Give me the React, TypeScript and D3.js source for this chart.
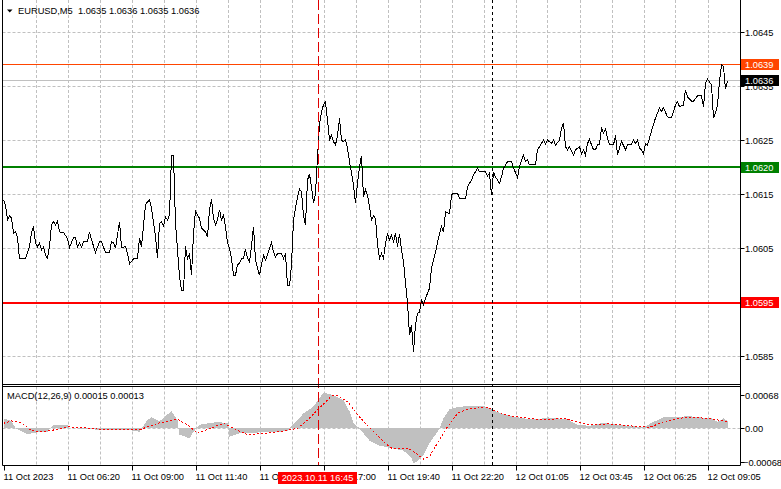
import { useEffect } from 'react'
import * as d3 from 'd3'

// EURUSD M5 close prices, [bar index, close]
const pricePts: [number, number][] = [
  [0, 1.06139], [1, 1.06129], [2, 1.06101], [3, 1.06109], [4, 1.06105], [5, 1.06077], [6, 1.06079], [7, 1.0607],
  [8, 1.06029], [11, 1.06029], [13, 1.06052], [14, 1.06077], [15, 1.06089], [16, 1.06059], [17, 1.06052], [18, 1.06059],
  [19, 1.06046], [20, 1.06051], [21, 1.06036], [22, 1.0603], [23, 1.06052], [24, 1.06092], [25, 1.06098], [26, 1.06092],
  [27, 1.06099], [28, 1.06079], [30, 1.06078], [32, 1.06067], [33, 1.0605], [35, 1.06069], [36, 1.06068], [37, 1.06051],
  [38, 1.06059], [39, 1.06051], [40, 1.06061], [42, 1.06062], [43, 1.06079], [44, 1.06065], [46, 1.06041], [48, 1.06061],
  [49, 1.06061], [51, 1.06041], [53, 1.06041], [54, 1.06061], [55, 1.06059], [56, 1.06049], [58, 1.06098], [59, 1.0605],
  [61, 1.06052], [62, 1.06039], [63, 1.0602], [65, 1.06029], [67, 1.0603], [68, 1.06067], [69, 1.06052], [71, 1.06129],
  [72, 1.06135], [73, 1.06138], [74, 1.06123], [76, 1.0607], [77, 1.0603], [78, 1.06095], [79, 1.06098], [80, 1.0609],
  [81, 1.06107], [82, 1.06101], [83, 1.0611], [84, 1.06221], [85, 1.06221], [86, 1.06095], [87, 1.06046], [88, 1.05996],
  [89, 1.0597], [90, 1.0597], [91, 1.06052], [92, 1.0603], [93, 1.06039], [94, 1.05999], [95, 1.06076], [96, 1.06118],
  [98, 1.06104], [99, 1.06086], [101, 1.06079], [102, 1.0607], [103, 1.0612], [104, 1.06139], [105, 1.06104], [106, 1.06092],
  [107, 1.06101], [108, 1.0612], [109, 1.06101], [110, 1.0611], [111, 1.06089], [112, 1.06059], [113, 1.06049], [114, 1.0603],
  [115, 1.05999], [116, 1.05999], [117, 1.06018], [118, 1.06021], [119, 1.0603], [120, 1.0603], [121, 1.06047], [122, 1.0603],
  [123, 1.06024], [124, 1.06052], [125, 1.06089], [126, 1.06027], [127, 1.06012], [128, 1.05999], [129, 1.06018], [130, 1.06036],
  [131, 1.06027], [132, 1.06036], [133, 1.06049], [134, 1.06059], [135, 1.06042], [136, 1.06033], [137, 1.06039], [139, 1.06039],
  [140, 1.0603], [141, 1.06039], [142, 1.05979], [143, 1.05979], [144, 1.06018], [145, 1.06101], [146, 1.06123], [147, 1.06144],
  [148, 1.06158], [149, 1.06153], [150, 1.0611], [151, 1.06092], [152, 1.06175], [153, 1.06186], [154, 1.06162], [155, 1.06132],
  [156, 1.06151], [157, 1.06218], [158, 1.06277], [159, 1.06302], [160, 1.06314], [161, 1.0632], [162, 1.06286], [163, 1.0625],
  [164, 1.06258], [165, 1.06246], [166, 1.0624], [167, 1.06258], [168, 1.06289], [169, 1.06249], [170, 1.06246], [171, 1.0625],
  [172, 1.06234], [173, 1.06209], [174, 1.06188], [175, 1.06166], [176, 1.06132], [177, 1.06169], [178, 1.062], [179, 1.0622],
  [180, 1.06144], [181, 1.06157], [182, 1.06147], [183, 1.06126], [184, 1.06101], [185, 1.06109], [186, 1.06104], [187, 1.06055],
  [188, 1.0603], [189, 1.06039], [190, 1.0603], [191, 1.06058], [192, 1.06076], [193, 1.06064], [194, 1.06073], [195, 1.06061],
  [196, 1.06076], [197, 1.06052], [198, 1.06076], [199, 1.06046], [200, 1.06023], [202, 1.05947], [203, 1.05888], [204, 1.05907],
  [205, 1.05857], [206, 1.05907], [207, 1.05928], [208, 1.05931], [209, 1.05953], [210, 1.05944], [211, 1.05956], [213, 1.05975],
  [214, 1.06012], [216, 1.06042], [218, 1.06076], [219, 1.06089], [220, 1.06079], [221, 1.06116], [223, 1.06113], [224, 1.06147],
  [225, 1.06151], [227, 1.06151], [228, 1.06141], [231, 1.0614], [232, 1.06163], [234, 1.06175], [235, 1.06184], [237, 1.06197],
  [238, 1.0619], [241, 1.0619], [242, 1.06183], [243, 1.06188], [244, 1.06147], [245, 1.0619], [246, 1.06181], [248, 1.06169],
  [249, 1.06181], [250, 1.06197], [252, 1.06209], [254, 1.06209], [255, 1.06197], [256, 1.06189], [257, 1.0618], [258, 1.062],
  [259, 1.06212], [260, 1.06221], [261, 1.06209], [262, 1.06213], [263, 1.06203], [266, 1.06203], [267, 1.06231], [269, 1.06243],
  [270, 1.06249], [271, 1.06242], [272, 1.06249], [274, 1.06243], [275, 1.06249], [276, 1.0624], [278, 1.06249], [279, 1.06271],
  [280, 1.0628], [281, 1.06237], [282, 1.06231], [283, 1.06237], [285, 1.06221], [286, 1.06231], [288, 1.06237], [289, 1.06223],
  [290, 1.06231], [291, 1.06221], [292, 1.06243], [293, 1.0625], [295, 1.06231], [296, 1.06231], [297, 1.0624], [298, 1.06241],
  [299, 1.06271], [300, 1.06262], [301, 1.0627], [302, 1.06252], [303, 1.0624], [305, 1.0624], [306, 1.06258], [307, 1.06221],
  [308, 1.06234], [309, 1.06247], [310, 1.06239], [311, 1.06231], [312, 1.06241], [314, 1.06241], [315, 1.06249], [316, 1.06243],
  [317, 1.06249], [318, 1.06234], [319, 1.06231], [320, 1.06223], [321, 1.06243], [322, 1.0624], [323, 1.06253], [324, 1.06266],
  [326, 1.0629], [328, 1.06308], [329, 1.06302], [330, 1.06309], [332, 1.06292], [334, 1.0629], [336, 1.06314], [337, 1.0632],
  [338, 1.06311], [340, 1.06314], [341, 1.06342], [342, 1.06329], [344, 1.06321], [345, 1.06321], [347, 1.06331], [349, 1.06331],
  [350, 1.06311], [351, 1.06354], [352, 1.06362], [354, 1.06351], [355, 1.0629], [356, 1.063], [357, 1.06314], [358, 1.06357],
  [359, 1.06389], [360, 1.06385], [361, 1.06343], [362, 1.06359],
]

// MACD(12,26,9) main (histogram) and signal, [bar index, value]
const macdPts: [number, number][] = [
  [0, 0.0002], [4, 0.00015], [6, 0], [12, -0.00012], [18, -0.00007], [22, -0.00007], [25, 0.00007], [32, 0.00007],
  [33, 0.00001], [48, -0.00003], [62, -0.00003], [68, -0.00007], [72, 0.00017], [74, 0.00022], [78, 0.00014], [84, 0.00035],
  [87, 0.00016], [88, -0.00013], [93, -0.0002], [95, -0.00007], [98, 0.00007], [107, 0.00013], [112, 0.0001], [113, -0.00017],
  [118, -0.0001], [142, -0.00006], [143, 0], [150, 0.0003], [155, 0.00044], [160, 0.00072], [165, 0.00067], [170, 0.00057],
  [173, 0.00034], [175, 0.0001], [178, 0], [183, -0.00025], [188, -0.00035], [194, -0.0004], [200, -0.00045], [204, -0.0006],
  [205, -0.0007], [207, -0.00067], [210, -0.00054], [213, -0.0003], [217, -0.00007], [218, 0], [220, 0.0002], [223, 0.00038],
  [227, 0.00043], [233, 0.00045], [240, 0.00045], [243, 0.0004], [247, 0.00033], [253, 0.00025], [260, 0.0002], [267, 0.00018],
  [272, 0.00022], [277, 0.0002], [282, 0.00018], [287, 0.00007], [293, 0.00005], [300, 0.00011], [307, 0.00007], [313, 0.00005],
  [320, 0.00002], [325, 0.00013], [330, 0.00022], [337, 0.00022], [342, 0.00025], [348, 0.00022], [354, 0.0002], [357, 0.00013],
  [360, 0.0002], [362, 0.00015],
]

const signalPts: [number, number][] = [
  [0, 0.0001], [4, 0.00015], [9, 0.00011], [14, -0.00005], [20, -0.00007], [27, -0.00002], [32, 0.00003], [38, 0.00002],
  [48, -0.00002], [58, -0.00003], [68, -0.00003], [75, 0.00007], [78, 0.00011], [87, 0.00018], [92, 0.00007], [97, -0.0001],
  [102, -0.00002], [110, 0.0001], [115, 0], [122, -0.00013], [132, -0.0001], [142, -0.00004], [147, 0], [152, 0.00017],
  [157, 0.00037], [164, 0.00065], [167, 0.00066], [172, 0.00054], [178, 0.00023], [185, -0.00007], [192, -0.00034], [194, -0.0004],
  [202, -0.0004], [205, -0.00047], [210, -0.00062], [213, -0.00057], [217, -0.0003], [222, 0.00003], [227, 0.0003], [233, 0.0004],
  [242, 0.00042], [247, 0.00033], [253, 0.00025], [263, 0.0002], [270, 0.00017], [280, 0.0002], [287, 0.00013], [292, 0.00007],
  [303, 0.00009], [313, 0.00005], [323, 0.00002], [330, 0.00013], [337, 0.0002], [343, 0.00022], [353, 0.0002], [362, 0.00013],
]

const priceTicks = [1.0645, 1.0635, 1.0625, 1.0615, 1.0605, 1.0595, 1.0585]
const macdTicks = [0.00068, 0, -0.00068]
const timeLabels = [
  '11 Oct 2023', '11 Oct 06:20', '11 Oct 09:00', '11 Oct 11:40', '11 Oct 14:20', '11 Oct 17:00',
  '11 Oct 19:40', '11 Oct 22:20', '12 Oct 01:05', '12 Oct 03:45', '12 Oct 06:25', '12 Oct 09:05',
]
const labelStep = 32 // bars between time labels
const gridStep = 16

const levelHigh = 1.0639
const bid = 1.0636
const levelGreen = 1.062
const levelRed = 1.0595
const cursorBar = 157
const cursorLabel = '2023.10.11 16:45'
const daySeparatorBar = 244
const header = 'EURUSD,M5  1.0635 1.0636 1.0635 1.0636'
const macdHeader = 'MACD(12,26,9) 0.00015 0.00013'

const FONT = '"Liberation Sans", Arial, sans-serif'
const FS = 9.3

export default function App() {
  useEffect(() => {
    document.body.style.margin = '0'
  }, [])

  const width = 781
  const height = 489
  const left = 2.5
  const right = 740.5
  const mainTop = 0
  const mainBottom = 384.5
  const subTop = 386.5
  const subBottom = 465.5

  const x = d3.scaleLinear().domain([0, 362]).range([3.5, 727.5])
  const y = d3.scaleLinear().domain([1.0585, 1.0645]).range([355.7, 31.5])
  const ym = d3.scaleLinear().domain([-0.00068, 0.00068]).range([462, 394.6])

  const px = (v: number) => Math.round(v) + 0.5

  const priceLine = d3.line<[number, number]>().x(d => x(d[0])).y(d => y(d[1]))
  const histArea = d3.area<[number, number]>().x(d => x(d[0])).y0(ym(0)).y1(d => ym(d[1]))
  const signalLine = d3.line<[number, number]>().x(d => x(d[0])).y(d => ym(d[1]))

  const gridBars = d3.range(gridStep, 362, gridStep)
  const grid = '#c0c0c0'

  const axisBox = (value: number, fill: string, fmt: (v: number) => string) => {
    const cy = Math.round(y(value))
    return (
      <g key={`box-${value}`}>
        <rect x={741} y={cy - 5} width={38} height={11} fill={fill} />
        <text x={745} y={cy + 4} fill="#fff" fontSize={FS} fontFamily={FONT}>{fmt(value)}</text>
      </g>
    )
  }
  const f4 = d3.format('.4f')

  return (
    <svg width={width} height={height} style={{ display: 'block', background: '#fff' }}>
      <rect width={width} height={height} fill="#fff" />

      {/* grid */}
      {gridBars.map(b => (
        <g key={`vg-${b}`}>
          <line x1={px(x(b))} x2={px(x(b))} y1={mainTop} y2={mainBottom} stroke={grid} strokeDasharray="3,2" />
          <line x1={px(x(b))} x2={px(x(b))} y1={subTop} y2={subBottom} stroke={grid} strokeDasharray="3,2" />
        </g>
      ))}
      {priceTicks.map(t => (
        <line key={`hg-${t}`} x1={left} x2={right} y1={px(y(t))} y2={px(y(t))} stroke={grid} strokeDasharray="3,2" />
      ))}
      <line x1={left} x2={right} y1={px(ym(0))} y2={px(ym(0))} stroke={grid} strokeDasharray="3,2" />

      {/* MACD */}
      <path d={histArea(macdPts) ?? ''} fill="#c0c0c0" shapeRendering="crispEdges" />
      <path d={signalLine(signalPts) ?? ''} fill="none" stroke="#ff0000" strokeDasharray="2,2" shapeRendering="crispEdges" />

      {/* horizontal levels */}
      <line x1={left} x2={right} y1={px(y(levelHigh))} y2={px(y(levelHigh))} stroke="#ff4500" />
      <line x1={left} x2={right} y1={px(y(bid))} y2={px(y(bid))} stroke="#c0c0c0" />
      <line x1={left} x2={right} y1={Math.round(y(levelGreen))} y2={Math.round(y(levelGreen))} stroke="#008000" strokeWidth={2} />
      <line x1={left} x2={right} y1={Math.round(y(levelRed)) + 1} y2={Math.round(y(levelRed)) + 1} stroke="#ff0000" strokeWidth={2} />

      {/* price */}
      <path d={priceLine(pricePts) ?? ''} fill="none" stroke="#000" strokeWidth={1} shapeRendering="crispEdges" />

      {/* vertical markers */}
      <line x1={px(x(cursorBar))} x2={px(x(cursorBar))} y1={0} y2={subBottom} stroke="#e00000" strokeDasharray="10,4" />
      <line x1={px(x(daySeparatorBar))} x2={px(x(daySeparatorBar))} y1={0} y2={subBottom} stroke="#000" strokeDasharray="3,3" />

      {/* frames */}
      <line x1={left} x2={left} y1={0} y2={subBottom} stroke="#000" />
      <line x1={right} x2={right} y1={0} y2={subBottom} stroke="#000" />
      <line x1={left} x2={right} y1={mainBottom} y2={mainBottom} stroke="#000" />
      <line x1={left} x2={right} y1={subTop} y2={subTop} stroke="#000" />
      <line x1={left} x2={right} y1={subBottom} y2={subBottom} stroke="#000" />

      {/* price axis */}
      {priceTicks.map(t => (
        <g key={`pt-${t}`}>
          <line x1={right} x2={right + 4} y1={px(y(t))} y2={px(y(t))} stroke="#000" />
          <text x={745} y={Math.round(y(t)) + 4} fontSize={FS} fontFamily={FONT} fill="#000">{f4(t)}</text>
        </g>
      ))}
      {axisBox(levelHigh, '#ff4500', f4)}
      {axisBox(bid, '#000', f4)}
      {axisBox(levelGreen, '#008000', f4)}
      {axisBox(levelRed, '#ff0000', f4)}

      {/* MACD axis */}
      {macdTicks.map(t => (
        <g key={`mt-${t}`}>
          <line x1={right} x2={right + 4} y1={px(ym(t))} y2={px(ym(t))} stroke="#000" />
          <text x={t < 0 ? 743 : 745} y={Math.round(ym(t)) + 4} fontSize={FS} fontFamily={FONT} fill="#000">
            {t === 0 ? '0.00' : d3.format('.5f')(t)}
          </text>
        </g>
      ))}

      {/* time axis */}
      {timeLabels.map((l, i) => (
        <g key={`tl-${l}`}>
          <line x1={px(x(i * labelStep))} x2={px(x(i * labelStep))} y1={subBottom} y2={subBottom + 5} stroke="#000" />
          <text x={x(i * labelStep)} y={480} fontSize={FS} fontFamily={FONT} fill="#000">{l}</text>
        </g>
      ))}
      <rect x={x(cursorBar) - 39.5} y={472} width={79} height={12} fill="#ff0000" />
      <text x={x(cursorBar)} y={481} textAnchor="middle" fontSize={FS} fontFamily={FONT} fill="#fff">{cursorLabel}</text>

      {/* headers */}
      <path d="M7,9.5 L12.5,9.5 L9.75,12.5 Z" fill="#000" />
      <text x={18} y={14} fontSize={FS} fontFamily={FONT} fill="#000" style={{ whiteSpace: 'pre' }}>{header}</text>
      <text x={7} y={398.5} fontSize={FS} fontFamily={FONT} fill="#000">{macdHeader}</text>
    </svg>
  )
}
